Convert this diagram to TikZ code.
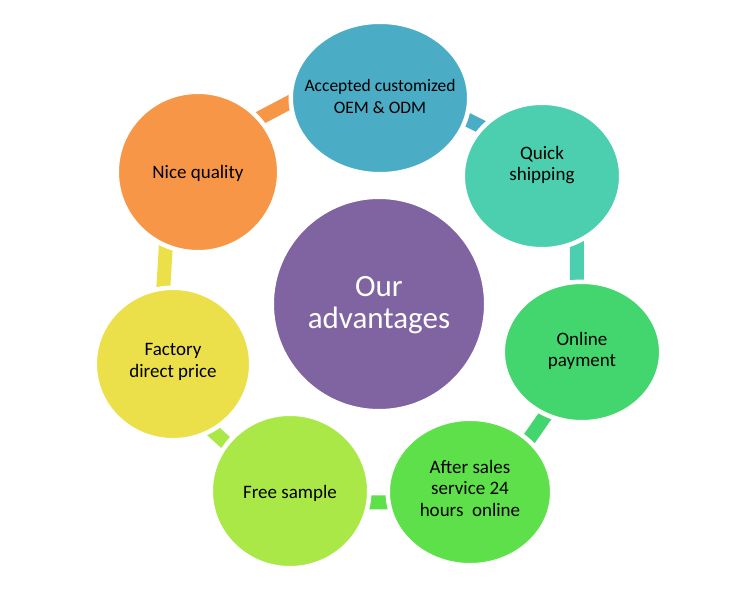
\documentclass[tikz,border=0pt]{standalone}
\usepackage{fontspec}
\setmainfont{Carlito}
\usetikzlibrary{shapes.geometric,backgrounds}
\definecolor{cOrange}{HTML}{F79646}
\definecolor{cBlue}{HTML}{4BACC6}
\definecolor{cTeal}{HTML}{4BCFAF}
\definecolor{cGreen}{HTML}{44D66E}
\definecolor{cBright}{HTML}{5EE04A}
\definecolor{cLight}{HTML}{AAE848}
\definecolor{cYellow}{HTML}{ECE04A}
\definecolor{cPurple}{HTML}{8064A2}
\begin{document}
\begin{tikzpicture}[x=1pt,y=-1pt,
  bubble/.style={ellipse, draw=white, line width=4.5pt, inner sep=0pt},
  txt/.style={align=center, font=\fontsize{19}{21.5}\selectfont, text=black},
  bar/.style={line width=14pt, shorten <=-8pt, shorten >=-8pt}]
\useasboundingbox (0,0) rectangle (750,602);
% bubbles
\node[bubble, fill=cOrange, minimum width=162.5pt, minimum height=160.5pt] (nq) at (198,172) {};
\node[bubble, fill=cBlue, minimum width=178.5pt, minimum height=152.5pt] (oem) at (380,98) {};
\node[bubble, fill=cTeal, minimum width=158.5pt, minimum height=146.5pt] (qs) at (542,176) {};
\node[bubble, fill=cGreen, minimum width=158.5pt, minimum height=140.5pt] (op) at (582,352) {};
\node[bubble, fill=cBright, minimum width=164.5pt, minimum height=146.5pt] (as) at (470,492) {};
\node[bubble, fill=cLight, minimum width=158.5pt, minimum height=154.5pt] (fs) at (290,491) {};
\node[bubble, fill=cYellow, minimum width=156.5pt, minimum height=152.5pt] (fd) at (173,364) {};
\node[bubble, fill=cPurple, minimum width=214.5pt, minimum height=214.5pt] (oa) at (379,304) {};
% connectors
\begin{scope}[on background layer]
\draw[bar, cOrange] (nq.41) -- (oem.183);
\draw[bar, cBlue] (oem.-14) -- (qs.141);
\draw[bar, cTeal] (qs.-63) -- (op.94);
\draw[bar, cGreen] (op.240) -- (as.42);
\draw[bar, cBright] (as.187) -- (fs.-8);
\draw[bar, cLight] (fs.143) -- (fd.-59);
\draw[bar, cYellow] (fd.97) -- (nq.247);
\end{scope}
% texts
\node[txt, font=\fontsize{17.5}{22}\selectfont] (oem-t) at ([yshift=2pt]oem.center) {Accepted customized\\OEM \& ODM};
\node[txt] (qs-t) at ([yshift=11pt]qs.center) {Quick\\shipping};
\node[txt] (op-t) at ([yshift=1pt]op.center) {Online\\payment};
\node[txt] (as-t) at ([yshift=4pt]as.center) {After sales\\service 24\\hours\ \ online};
\node[txt] (fs-t) at ([yshift=-2pt]fs.center) {Free sample};
\node[txt] (fd-t) at ([yshift=2pt]fd.center) {Factory\\direct price};
\node[txt] (nq-t) at ([yshift=-1pt]nq.center) {Nice quality};
\node[txt, text=white, font=\fontsize{31}{32}\selectfont] (oa-t) at ([yshift=-1pt]oa.center) {Our\\advantages};
\end{tikzpicture}
\end{document}
